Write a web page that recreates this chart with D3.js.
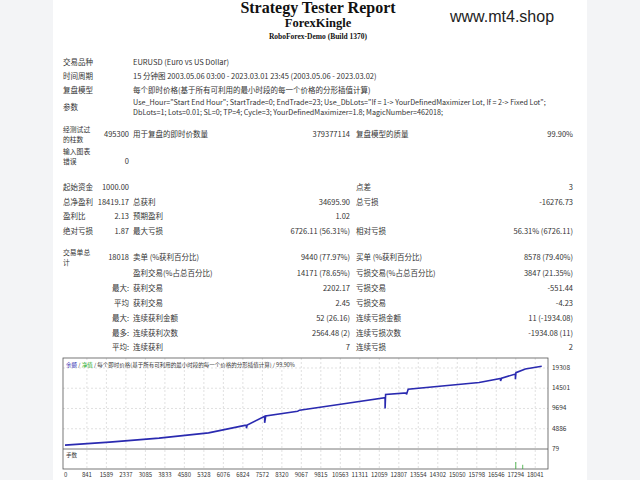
<!DOCTYPE html><html><head><meta charset="utf-8"><script src="https://cdn.jsdelivr.net/npm/d3@7"></script>
<style>body{margin:0;background:#f3f4f6}svg{display:block}</style></head><body><svg width="640" height="480"></svg>
<script>
const trades=[0,1709,3608,5507,6900,6960,6960,6990,7660,7660,7700,8925,9000,10571,12280,12280,12300,13100,13100,13166,15888,16710,16710,16750,17280,17280,17300,17660,18290];
const balance=[1000,1700,2650,3900,5680,5700,5000,5750,7840,6300,7900,9040,9300,10700,12260,9700,13000,13400,13000,14260,15860,16800,16200,16900,17860,16660,18200,19070,19720];
const xTicks=[0,841,1589,2337,3085,3833,4580,5328,6076,6824,7572,8320,9067,9815,10563,11311,12059,12807,13554,14302,15050,15798,16546,17294,18041];
const yTicks=[79,4886,9694,14501,19308];
const lotTrades=[17294,17560];const lotValues=[1,0.6];
const rowsTop=[["交易品种","EURUSD (Euro vs US Dollar)",63],["时间周期","15 分钟图 2003.05.06 03:00 - 2023.03.01 23:45 (2003.05.06 - 2023.03.02)",77],["复盘模型","每个即时价格(基于所有可利用的最小时段的每一个价格的分形插值计算)",91]];
const params=["Use_Hour=\"Start End Hour\"; StartTrade=0; EndTrade=23; Use_DbLots=\"If = 1-> YourDefinedMaximizer Lot, If = 2-> Fixed Lot\";","DbLots=1; Lots=0.01; SL=0; TP=4; Cycle=3; YourDefinedMaximizer=1.8; MagicNumber=462018;"];
const stats=[
["起始资金","1000.00","","","点差","3",188],
["总净盈利","18419.17","总获利","34695.90","总亏损","-16276.73",203],
["盈利比","2.13","预期盈利","1.02","","",217],
["绝对亏损","1.87","最大亏损","6726.11 (56.31%)","相对亏损","56.31% (6726.11)",232],
["","18018","卖单 (%获利百分比)","9440 (77.97%)","买单 (%获利百分比)","8578 (79.40%)",258],
["","","盈利交易(%占总百分比)","14171 (78.65%)","亏损交易(%占总百分比)","3847 (21.35%)",274],
["最大:","","获利交易","2202.17","亏损交易","-551.44",289],
["平均","","获利交易","2.45","亏损交易","-4.23",304],
["最大:","","连续获利金额","52 (26.16)","连续亏损金额","11 (-1934.08)",319],
["最多:","","连续获利次数","2564.48 (2)","连续亏损次数","-1934.08 (11)",334],
["平均:","","连续获利","7","连续亏损","2",348]];
const svg=d3.select("svg");
const F="'Noto Sans CJK SC','DejaVu Sans',sans-serif";
svg.append("rect").attr("x",53).attr("y",0).attr("width",534).attr("height",480).attr("fill","#fff");
const T=(x,y,s,o={})=>svg.append("text").attr("x",x).attr("y",y).text(s).attr("font-family",o.f||F).attr("font-size",o.s||7.5).attr("font-weight",o.w||"normal").attr("text-anchor",o.a||"start").attr("fill",o.c||"#333").attr("dominant-baseline","middle");
T(318,9,"Strategy Tester Report",{f:"'Liberation Serif',serif",s:16,w:"bold",a:"middle",c:"#111"});
T(318,24,"ForexKingle",{f:"'Liberation Serif',serif",s:12.5,w:"bold",a:"middle",c:"#111"});
T(318,37,"RoboForex-Demo (Build 1370)",{f:"'Liberation Serif',serif",s:7.5,w:"bold",a:"middle",c:"#111"});
T(450,18,"www.mt4.shop",{f:"'Liberation Sans',Arial,sans-serif",s:16,c:"#222"});
rowsTop.forEach(r=>{T(63,r[2],r[0]);T(133,r[2],r[1]);});
T(63,108,"参数");T(133,103.5,params[0],{s:7.2});T(133,113,params[1],{s:7.2});
const S={s:6.8};
T(63,130.5,"经测试过",S);T(63,140.5,"的柱数",S);T(129,135,"495300",{a:"end"});T(133,135,"用于复盘的即时价数量");T(350,135,"379377114",{a:"end"});T(356,135,"复盘模型的质量");T(573,135,"99.90%",{a:"end"});
T(63,152.5,"输入图表",S);T(63,162.5,"错误",S);T(129,162,"0",{a:"end"});
T(63,253.5,"交易单总",S);T(63,263.5,"计",S);
stats.forEach(r=>{const y=r[6];
 if(r[0]) T(r[1]||y<250?63:129,y,r[0],{a:(r[1]||y<250)?"start":"end"});
 if(r[1]) T(129,y,r[1],{a:"end"});
 if(r[2]) T(133,y,r[2]); if(r[3]) T(350,y,r[3],{a:"end"});
 if(r[4]) T(356,y,r[4]); if(r[5]) T(573,y,r[5],{a:"end"});});
const L=63,R=548,Top=358,Mid=449,Bot=469;
const x=d3.scaleLinear().domain([0,18300]).range([L+2,R-6]);
const y=d3.scaleLinear().domain([79,19308]).range([Mid,368]);
const g=svg.append("g");
g.selectAll(".vg").data(xTicks.slice(1)).join("line").attr("x1",d=>x(d)).attr("x2",d=>x(d)).attr("y1",Top).attr("y2",Bot).attr("stroke","#ccc").attr("stroke-dasharray","2,2").attr("stroke-width",0.6);
g.selectAll(".hg").data(yTicks.slice(1)).join("line").attr("x1",L).attr("x2",R).attr("y1",d=>y(d)).attr("y2",d=>y(d)).attr("stroke","#ccc").attr("stroke-dasharray","2,2").attr("stroke-width",0.6);
g.append("rect").attr("x",L).attr("y",Top).attr("width",R-L).attr("height",Bot-Top).attr("fill","none").attr("stroke","#555").attr("stroke-width",0.8);
g.append("line").attr("x1",L).attr("x2",R).attr("y1",Mid).attr("y2",Mid).attr("stroke","#555").attr("stroke-width",0.8);
const pts=trades.map((t,i)=>[t,balance[i]]);
g.append("path").attr("d",d3.line().x(d=>x(d[0])).y(d=>y(d[1]))(pts)).attr("fill","none").attr("stroke","#2a2ab0").attr("stroke-width",1.6);
const ly=d3.scaleLinear().domain([0,1]).range([Bot,Bot-7]);
g.selectAll(".lot").data(lotTrades).join("line").attr("x1",d=>x(d)).attr("x2",d=>x(d)).attr("y1",Bot).attr("y2",(d,i)=>ly(lotValues[i])).attr("stroke","#3a3").attr("stroke-width",0.8);
yTicks.forEach(v=>T(R+4,y(v),String(v),{s:6.5}));
xTicks.forEach(v=>T(v===0?L+1:x(v),475,String(v),{s:6,a:v===0?"start":"middle"}));
const lg=svg.append("text").attr("x",L+3).attr("y",365).attr("font-family",F).attr("font-size",5.5).attr("dominant-baseline","middle");
lg.append("tspan").text("余额").attr("fill","#2a2ab0");lg.append("tspan").text(" / ").attr("fill","#333");
lg.append("tspan").text("净值").attr("fill","#2a2");lg.append("tspan").text(" / 每个即时价格(基于所有可利用的最小时段的每一个价格的分形插值计算) / 99.90%").attr("fill","#333");
T(L+3,455,"手数",{s:5.5});
</script></body></html>
